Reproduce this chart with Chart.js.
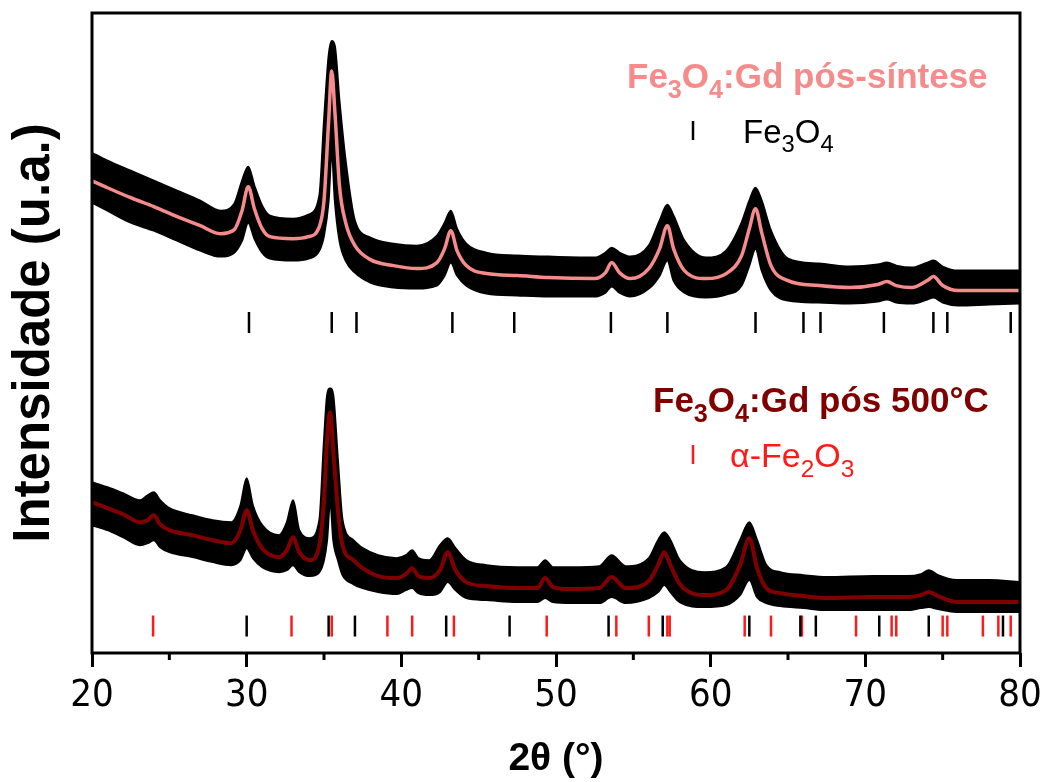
<!DOCTYPE html>
<html>
<head>
<meta charset="utf-8">
<script src="https://cdn.jsdelivr.net/npm/chart.js@4.4.1/dist/chart.umd.min.js"></script>
<style>
  html, body { margin: 0; padding: 0; background: #fff; }
  canvas { display: block; }
</style>
</head>
<body>
<canvas id="xrd" width="1043" height="782"></canvas>
<script>
// 2θ (°) and offset intensity (a.u.)
const topAngles = [20.0, 21.0, 22.5, 24.0, 25.5, 27.0, 28.3, 29.2, 29.7, 30.1, 30.5, 31.0, 31.5, 33.0, 34.0, 34.7, 35.0, 35.3, 35.5, 35.7, 36.0, 36.4, 37.0, 38.0, 39.5, 41.0, 42.3, 42.8, 43.2, 43.6, 44.2, 45.5, 47.5, 49.5, 52.5, 53.2, 53.6, 54.1, 54.8, 56.0, 56.7, 57.2, 57.6, 58.3, 59.7, 61.0, 62.0, 62.5, 62.9, 63.3, 63.9, 65.0, 67.0, 69.0, 70.8, 71.4, 72.0, 73.0, 74.0, 74.4, 75.0, 76.0, 78.0, 80.0];
const topFit   = [473, 466, 456, 447, 437, 428, 420, 424, 443, 467, 445, 425, 417, 415, 417, 427, 453, 533, 583, 543, 468, 431, 408, 394, 388, 385, 391, 405, 423, 403, 388, 380, 378, 376, 375, 381, 391, 381, 375, 385, 405, 428, 405, 383, 375, 380, 398, 425, 445, 421, 388, 373, 368, 366, 369, 372, 368, 366, 373, 377, 368, 363, 363, 363];
const topUpper = [501, 493, 483, 473, 463, 453, 443, 450, 473, 487, 468, 448, 438, 435, 439, 458, 533, 598, 613, 608, 553, 493, 433, 416, 410, 408, 418, 431, 443, 425, 410, 401, 398, 397, 396, 401, 406, 401, 397, 408, 433, 449, 438, 413, 396, 403, 431, 453, 466, 453, 423, 395, 390, 387, 389, 391, 388, 386, 391, 393, 387, 383, 383, 383];
const topLower = [451, 443, 431, 423, 413, 403, 397, 401, 413, 431, 415, 401, 395, 393, 395, 403, 418, 453, 503, 453, 413, 393, 381, 371, 366, 365, 368, 378, 391, 378, 368, 360, 358, 357, 357, 361, 367, 361, 357, 365, 378, 393, 373, 361, 356, 359, 368, 388, 405, 383, 363, 353, 351, 350, 352, 354, 351, 350, 354, 356, 351, 348, 349, 350];

const botAngles = [20.0, 21.0, 22.0, 23.1, 23.6, 24.0, 24.4, 25.0, 26.5, 27.8, 29.0, 29.6, 30.0, 30.4, 31.0, 32.1, 32.6, 33.0, 33.4, 34.1, 34.7, 35.0, 35.2, 35.4, 35.6, 35.9, 36.2, 36.9, 37.5, 38.5, 39.7, 40.3, 40.7, 41.1, 41.8, 42.5, 43.0, 43.5, 44.2, 45.5, 47.5, 48.8, 49.3, 49.8, 51.0, 52.8, 53.6, 54.5, 56.0, 56.6, 57.0, 57.4, 58.0, 59.6, 61.0, 61.9, 62.5, 63.0, 63.6, 64.5, 66.0, 67.5, 70.5, 72.7, 73.6, 74.1, 74.7, 75.9, 78.0, 80.0];
const botFit   = [151, 145, 139, 131, 133, 138, 129, 123, 118, 113, 110, 123, 143, 123, 105, 96, 103, 116, 101, 93, 108, 153, 213, 241, 203, 143, 108, 93, 85, 77, 75, 79, 85, 77, 75, 83, 101, 83, 71, 67, 65, 65, 75, 66, 64, 65, 76, 65, 72, 88, 101, 88, 69, 58, 63, 88, 115, 85, 65, 60, 57, 55, 56, 56, 58, 61, 57, 51, 51, 51];
const botUpper = [171, 166, 160, 153, 158, 161, 153, 145, 138, 133, 131, 148, 175, 148, 128, 118, 131, 153, 123, 115, 133, 213, 258, 265, 258, 193, 133, 113, 105, 98, 95, 98, 103, 95, 93, 108, 115, 105, 93, 88, 86, 86, 93, 86, 86, 87, 98, 87, 95, 113, 121, 113, 93, 81, 86, 113, 131, 113, 88, 81, 78, 76, 77, 77, 79, 83, 78, 73, 73, 71];
const botLower = [128, 123, 116, 108, 110, 113, 106, 101, 96, 91, 88, 93, 105, 95, 86, 81, 83, 88, 81, 77, 81, 93, 113, 153, 113, 93, 78, 69, 65, 61, 59, 63, 65, 60, 58, 61, 71, 63, 55, 53, 51, 51, 55, 51, 50, 50, 56, 50, 55, 61, 68, 61, 51, 46, 48, 58, 73, 56, 50, 47, 45, 43, 43, 43, 45, 46, 44, 41, 41, 41];

// reference reflections (2θ)
const fe3o4TopPeaks = [30.15, 35.5, 37.1, 43.3, 47.3, 53.55, 57.2, 62.9, 66.0, 67.1, 71.2, 74.4, 75.3, 79.4];
const fe3o4BotPeaks = [30.0, 35.3, 37.0, 42.9, 47.0, 53.4, 56.9, 62.5, 65.8, 66.8, 70.9, 74.1, 78.9];
const fe2o3Peaks = [23.95, 32.9, 35.5, 39.1, 40.7, 43.4, 49.4, 53.9, 56.0, 57.2, 57.35, 62.2, 63.9, 65.9, 69.4, 71.7, 72.0, 75.0, 75.3, 77.6, 78.6, 79.4];
const topRefLevel = 331;
const botRefLevel = 27;

const xTickLabels = [20, 30, 40, 50, 60, 70, 80];

const PINK = '#f58b8b';
const DARKRED = '#800000';
const RED = '#ff1a1a';
const SANS = "'Liberation Sans', Arial, sans-serif";
const NARROW = "'Liberation Sans Narrow', 'Arial Narrow', 'DejaVu Sans Condensed', sans-serif";

function toPoints(xs, ys) {
  return xs.map((x, i) => ({ x: x, y: ys[i] }));
}

function refPoints(xs, level) {
  return xs.map(x => ({ x: x, y: level }));
}

function lineSet(data, color, width, extra) {
  return Object.assign({
    data: data,
    borderColor: color,
    borderWidth: width,
    pointRadius: 0,
    cubicInterpolationMode: 'monotone',
    fill: false
  }, extra || {});
}

function tickSet(data, color) {
  return {
    data: data,
    showLine: false,
    pointStyle: 'line',
    rotation: 90,
    pointRadius: 10.5,
    pointBorderWidth: 2.5,
    pointBorderColor: color,
    pointBackgroundColor: color,
    order: 0
  };
}

/** Draws a label with chemical subscripts, parts = [[text, isSub], ...] */
function drawRich(ctx, x, y, parts, size, weight, color) {
  ctx.save();
  ctx.fillStyle = color;
  ctx.textBaseline = 'alphabetic';
  ctx.textAlign = 'left';
  parts.forEach(([text, sub]) => {
    const s = sub ? size * 0.72 : size;
    ctx.font = `${weight} ${s}px ${SANS}`;
    ctx.fillText(text, x, sub ? y + size * 0.28 : y);
    x += ctx.measureText(text).width;
  });
  ctx.restore();
}

const framePlugin = {
  id: 'frame',
  afterDatasetsDraw(chart) {
    const { ctx, chartArea: a, scales: { x } } = chart;
    ctx.save();
    ctx.strokeStyle = '#000';
    ctx.lineWidth = 3;
    ctx.strokeRect(a.left, a.top, a.right - a.left, a.bottom - a.top);
    // minor ticks
    for (let v = 25; v < 80; v += 10) {
      const px = x.getPixelForValue(v);
      ctx.beginPath();
      ctx.moveTo(px, a.bottom);
      ctx.lineTo(px, a.bottom + 7);
      ctx.stroke();
    }
    ctx.restore();
  }
};

const labelPlugin = {
  id: 'phaseLabels',
  afterDraw(chart) {
    const ctx = chart.ctx;
    drawRich(ctx, 627, 88, [['Fe'], ['3', true], ['O'], ['4', true], [':Gd pós-síntese']], 35, 'bold', PINK);
    drawRich(ctx, 743, 143, [['Fe'], ['3', true], ['O'], ['4', true]], 33, 'normal', '#000');
    drawRich(ctx, 653, 412, [['Fe'], ['3', true], ['O'], ['4', true], [':Gd pós 500°C']], 35, 'bold', DARKRED);
    drawRich(ctx, 730, 467, [['α-Fe'], ['2', true], ['O'], ['3', true]], 34, 'normal', RED);
    ctx.save();
    ctx.lineWidth = 2.5;
    ctx.strokeStyle = '#000';
    ctx.beginPath(); ctx.moveTo(693, 121); ctx.lineTo(693, 140); ctx.stroke();
    ctx.strokeStyle = RED;
    ctx.beginPath(); ctx.moveTo(693, 445); ctx.lineTo(693, 464); ctx.stroke();
    ctx.restore();
  }
};

new Chart(document.getElementById('xrd'), {
  type: 'line',
  data: {
    datasets: [
      lineSet(toPoints(topAngles, topFit), PINK, 3.5, { order: 0 }),
      lineSet(toPoints(botAngles, botFit), DARKRED, 4, { order: 0 }),
      lineSet(toPoints(topAngles, topUpper), '#000', 2, { fill: '+1', backgroundColor: '#000', order: 1 }),
      lineSet(toPoints(topAngles, topLower), '#000', 2, { order: 1 }),
      lineSet(toPoints(botAngles, botUpper), '#000', 2, { fill: '+1', backgroundColor: '#000', order: 1 }),
      lineSet(toPoints(botAngles, botLower), '#000', 2, { order: 1 }),
      tickSet(refPoints(fe3o4TopPeaks, topRefLevel), '#000'),
      tickSet(refPoints(fe3o4BotPeaks, botRefLevel), '#000'),
      tickSet(refPoints(fe2o3Peaks, botRefLevel), RED)
    ]
  },
  options: {
    responsive: false,
    animation: false,
    events: [],
    devicePixelRatio: 1,
    layout: { padding: { top: 12, right: 23, left: 0, bottom: 0 } },
    plugins: { legend: { display: false }, tooltip: { enabled: false } },
    scales: {
      x: {
        type: 'linear',
        min: 20,
        max: 80,
        afterFit: s => { s.height = 129; s.paddingLeft = 0; s.paddingRight = 0; },
        border: { display: false },
        grid: {
          drawOnChartArea: false,
          drawTicks: true,
          tickLength: 14,
          tickWidth: 3,
          tickColor: c => (xTickLabels.includes(c.tick.value) ? '#000' : 'rgba(0,0,0,0)')
        },
        ticks: {
          stepSize: 10,
          autoSkip: false,
          maxRotation: 0,
          padding: 6,
          color: '#000',
          font: { family: NARROW, size: 38 },
          callback: v => (xTickLabels.includes(v) ? String(v) : '')
        },
        title: {
          display: true,
          text: '2θ (°)',
          color: '#000',
          font: { family: SANS, size: 39, weight: 'bold', lineHeight: 1 },
          padding: { top: 0, bottom: 3 }
        }
      },
      y: {
        min: 0,
        max: 641,
        afterFit: s => { s.width = 92; },
        border: { display: false },
        grid: { display: false },
        ticks: { display: false },
        title: {
          display: true,
          text: 'Intensidade (u.a.)',
          color: '#000',
          font: { family: SANS, size: 51, weight: 'bold', lineHeight: 1 },
          padding: { top: 9, bottom: 0 }
        }
      }
    }
  },
  plugins: [framePlugin, labelPlugin]
});
</script>
</body>
</html>
